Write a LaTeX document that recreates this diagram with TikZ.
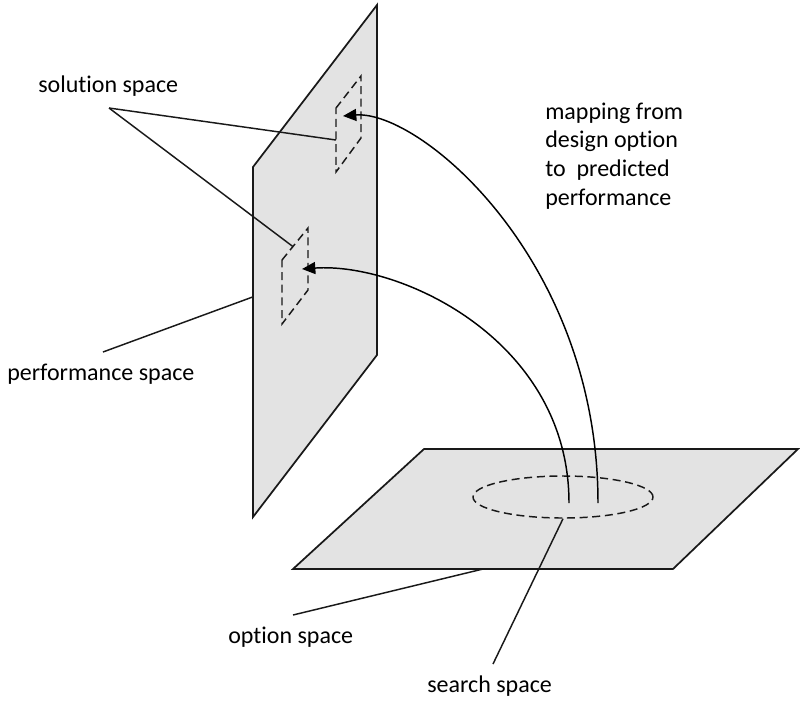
\documentclass[tikz,border=0pt]{standalone}
\usepackage{fontspec}
\setmainfont{Carlito}[Ligatures=NoCommon]
\usepackage{tikz}
\usetikzlibrary{arrows.meta, positioning, calc, shapes.geometric}
\definecolor{planegray}{RGB}{227,227,227}
\tikzset{
  plane/.style={draw=black!90, fill=planegray, line width=1.3pt},
  zone/.style={draw=black!90, dash pattern=on 6pt off 3.5pt, line width=1.1pt},
  lead/.style={draw=black!90, line width=1.1pt},
  mapar/.style={-{Triangle[length=10pt, width=9pt]}, line width=1.1pt},
  lbl/.style={font=\fontsize{18}{21.5}\selectfont, inner sep=0pt,
              anchor=base west, align=left},
}

\begin{document}
\begin{tikzpicture}[x=0.75pt, y=-0.75pt]
  \useasboundingbox (0,0) rectangle (800,701);

  % performance space (upright plane)
  \coordinate (pA) at (377,5);
  \coordinate (pB) at (377,355);
  \coordinate (pC) at (253,517);
  \coordinate (pD) at (253,167);
  \draw[plane] (pA) -- (pB) -- (pC) -- (pD) -- cycle;

  % option space (flat plane)
  \coordinate (oA) at (424,449);
  \coordinate (oB) at (798,449);
  \coordinate (oC) at (673,569);
  \coordinate (oD) at (293,569);
  \draw[plane] (oA) -- (oB) -- (oC) -- (oD) -- cycle;

  % solution spaces
  \coordinate (s1a) at (336,108);
  \coordinate (s1b) at (361,76);
  \coordinate (s1c) at (361,138);
  \coordinate (s1d) at (336,172);
  \draw[zone] (s1a) -- (s1b) -- (s1c) -- (s1d) -- cycle;
  \coordinate (s2a) at (282,260);
  \coordinate (s2b) at (308,228);
  \coordinate (s2c) at (308,290);
  \coordinate (s2d) at (282,324);
  \draw[zone] (s2a) -- (s2b) -- (s2c) -- (s2d) -- cycle;

  % search space
  \node[zone, ellipse, minimum width=135pt, minimum height=31.5pt,
        inner sep=0pt] (search) at (563,497) {};

  % mappings
  \coordinate (m1s) at (569,503);
  \coordinate (m1e) at (302,269);
  \coordinate (m2s) at (598,503);
  \coordinate (m2e) at (343,116);
  \draw[mapar] (m1s) .. controls (569,340) and (400,262) .. (m1e);
  \draw[mapar] (m2s) .. controls (598,260) and (420,110) .. (m2e);

  % labels
  \node[lbl] (solLbl) at (38,92) {solution space};
  \node[lbl] (mapLbl) at (545,205) {mapping from\\design option\\to\ \ predicted\\performance};
  \node[lbl] (perfLbl) at (7,380) {performance space};
  \node[lbl] (optLbl) at (228,643) {option space};
  \node[lbl] (srchLbl) at (427,692) {search space};

  % leader lines
  \coordinate (solHub) at (109,108);
  \coordinate (perfHub) at (103,352);
  \coordinate (optHub) at (293,615);
  \coordinate (srchHub) at (493,664);
  \draw[lead] (solHub) -- ($(s1a)!0.5!(s1d)$);
  \draw[lead] (solHub) -- ($(s2a)!0.42!(s2b)$);
  \draw[lead] (perfHub) -- ($(pD)!0.371!(pC)$);
  \draw[lead] (optHub) -- ($(oD)!0.5!(oC)$);
  \draw[lead] (srchHub) -- (search.south);
\end{tikzpicture}
\end{document}
